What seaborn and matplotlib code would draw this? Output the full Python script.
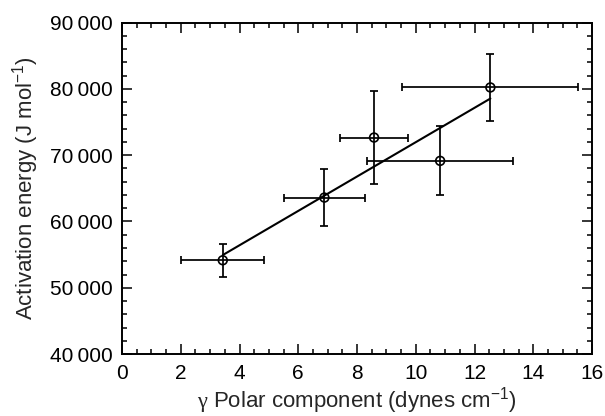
import numpy as np
import pandas as pd
import matplotlib
matplotlib.use("Agg")
import matplotlib.pyplot as plt
from matplotlib.ticker import MultipleLocator, FuncFormatter
import seaborn as sns

# Data
polar = [3.43, 6.89, 8.58, 10.83, 12.54]
energy = [54150, 63610, 72670, 69150, 80230]
polar_err = [1.42, 1.38, 1.15, 2.48, 3.0]
energy_err = [2500, 4300, 7000, 5200, 5050]

sns.set_style("ticks")
plt.rcParams['font.family'] = ['Liberation Sans', 'DejaVu Sans']
plt.rcParams['mathtext.fontset'] = 'custom'
plt.rcParams['mathtext.rm'] = 'Liberation Sans'
plt.rcParams['mathtext.it'] = 'Liberation Sans:italic'
plt.rcParams['mathtext.bf'] = 'Liberation Sans:bold'
plt.rcParams['mathtext.sf'] = 'Liberation Serif'

df = pd.DataFrame({"polar": polar, "energy": energy})

fig = plt.figure(figsize=(6.05, 4.16), dpi=100)
ax = fig.add_axes([0.2017, 0.149, 0.9785 - 0.2017, 0.9454 - 0.149])

ax.errorbar(polar, energy, xerr=polar_err, yerr=energy_err, fmt='none',
            ecolor='black', elinewidth=1.25, capsize=2.6, capthick=1.25, zorder=2)
sns.regplot(data=df, x="polar", y="energy", ax=ax, scatter=False, ci=None,
            truncate=True, line_kws=dict(color='black', lw=1.5), color='black')
sns.scatterplot(data=df, x="polar", y="energy", ax=ax, marker='o', s=40,
                facecolor='none', edgecolor='black', linewidth=1.2, zorder=3)

ax.set_xlim(0, 16)
ax.set_ylim(40000, 90000)
ax.xaxis.set_major_locator(MultipleLocator(2))
ax.xaxis.set_minor_locator(MultipleLocator(0.5))
ax.yaxis.set_major_locator(MultipleLocator(10000))
ax.yaxis.set_minor_locator(MultipleLocator(2000))
ax.yaxis.set_major_formatter(FuncFormatter(
    lambda v, p: f"{int(v):,}".replace(",", "\u2009")))
ax.tick_params(which='both', direction='in', top=True, right=True,
               width=1.1, labelsize=15, colors='black')
ax.tick_params(which='major', length=7, pad=7)
ax.tick_params(which='minor', length=3.6)
for s in ax.spines.values():
    s.set_linewidth(1.4)
    s.set_color('black')

ax.set_xlabel(r"$\mathsf{γ}$ Polar component (dynes cm$^{-1}$)", fontsize=16, labelpad=2)
ax.set_ylabel("Activation energy (J mol$^{-1}$)", fontsize=16, labelpad=6)

fig.savefig("out.png", dpi=100)
